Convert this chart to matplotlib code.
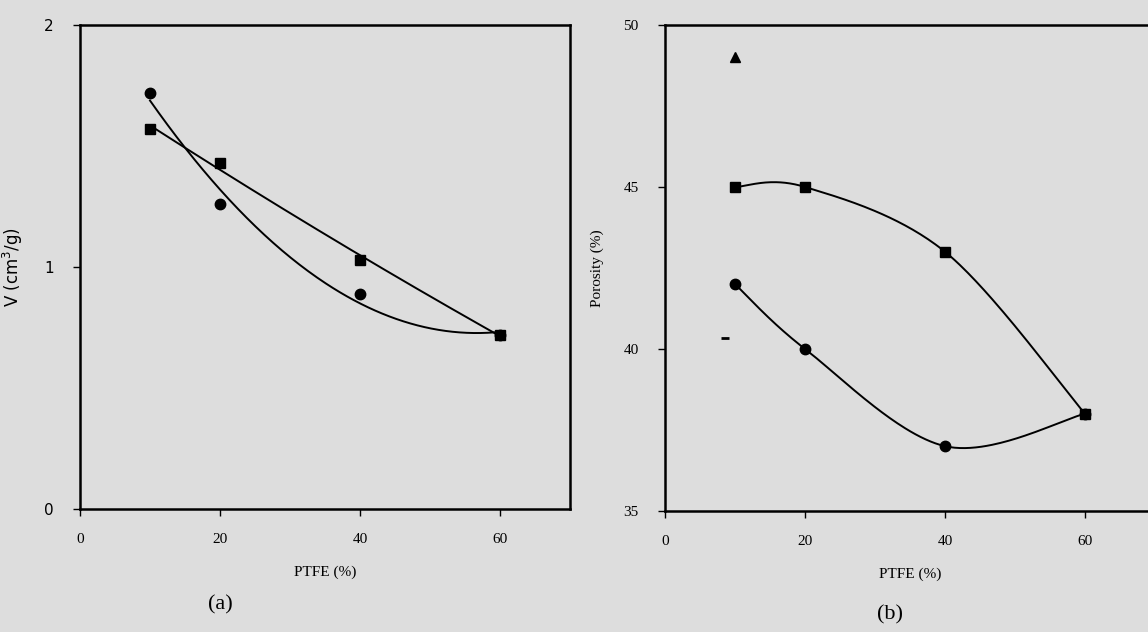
import numpy as np
import matplotlib
matplotlib.use("Agg")
import matplotlib.pyplot as plt

plt.rcParams['font.family'] = ['Liberation Serif', 'DejaVu Serif']

# panel (a): pore volume vs PTFE content
ptfe = [10, 20, 40, 60]
vol_circle = [1.72, 1.26, 0.89, 0.72]
vol_square = [1.57, 1.43, 1.03, 0.72]

# panel (b): porosity vs PTFE content
por_circle = [42.0, 40.0, 37.0, 38.0]
por_square = [45.0, 45.0, 43.0, 38.0]
por_tri_x = [10]
por_tri = [49.0]
por_dash_x = [8.5]
por_dash = [40.35]

bg = '#dddddd'
fig = plt.figure(figsize=(11.48, 6.32), dpi=100, facecolor=bg)

axA = fig.add_axes([0.0697, 0.1946, 0.4268, 0.7658], facecolor=bg)
axB = fig.add_axes([0.5793, 0.1915, 0.4268, 0.769], facecolor=bg)


def fit_line(ax, x, y, deg):
    xs = np.linspace(x[0], x[-1], 200)
    c = np.polyfit(x, y, deg)
    ax.plot(xs, np.polyval(c, xs), color='black', lw=1.4)


def smooth_line(ax, x, y):
    # excel-style smoothed line (bezier through the points)
    p = np.column_stack([x, y]).astype(float)
    p = np.vstack([p[0], p, p[-1]])
    t = np.linspace(0, 1, 60)[:, None]
    segs = []
    for i in range(1, len(p) - 2):
        b0 = p[i]
        b3 = p[i + 1]
        b1 = b0 + (p[i + 1] - p[i - 1]) / 6
        b2 = b3 - (p[i + 2] - p[i]) / 6
        segs.append((1 - t) ** 3 * b0 + 3 * (1 - t) ** 2 * t * b1
                    + 3 * (1 - t) * t ** 2 * b2 + t ** 3 * b3)
    c = np.vstack(segs)
    ax.plot(c[:, 0], c[:, 1], color='black', lw=1.4)


fit_line(axA, ptfe, vol_circle, 2)
fit_line(axA, ptfe, vol_square, 2)
axA.plot(ptfe, vol_circle, linestyle='none', marker='o', color='black', ms=7.5)
axA.plot(ptfe, vol_square, linestyle='none', marker='s', color='black', ms=7)
axA.set_xlim(0, 70)
axA.set_ylim(0, 2)
axA.set_xticks([0, 20, 40, 60])
axA.set_yticks([0, 1, 2])
axA.set_ylabel('V (cm$^3$/g)', fontsize=12, labelpad=14, family='DejaVu Sans')
axA.set_xlabel('PTFE (%)', fontsize=11, labelpad=14)
for lab in axA.get_yticklabels():
    lab.set_family('DejaVu Sans')

smooth_line(axB, ptfe, por_circle)
smooth_line(axB, ptfe, por_square)
axB.plot(ptfe, por_circle, linestyle='none', marker='o', color='black', ms=7.5)
axB.plot(ptfe, por_square, linestyle='none', marker='s', color='black', ms=7)
axB.plot(por_tri_x, por_tri, linestyle='none', marker='^', color='black', ms=7)
axB.plot(por_dash_x, por_dash, linestyle='none', marker='_', color='black', ms=6, mew=2)
axB.set_xlim(0, 70)
axB.set_ylim(35, 50)
axB.set_xticks([0, 20, 40, 60])
axB.set_yticks([35, 40, 45, 50])
axB.set_ylabel('Porosity (%)', fontsize=11, labelpad=14)
axB.set_xlabel('PTFE (%)', fontsize=11, labelpad=14)

for ax in (axA, axB):
    for s in ax.spines.values():
        s.set_linewidth(1.8)
    ax.tick_params(direction='out', length=5, width=1, labelsize=11, pad=12)
    ax.tick_params(axis='y', pad=14)

fig.text(0.192, 0.035, '(a)', fontsize=16, ha='center')
fig.text(0.775, 0.02, '(b)', fontsize=16, ha='center')

fig.savefig('out.png', dpi=100, facecolor=bg)
